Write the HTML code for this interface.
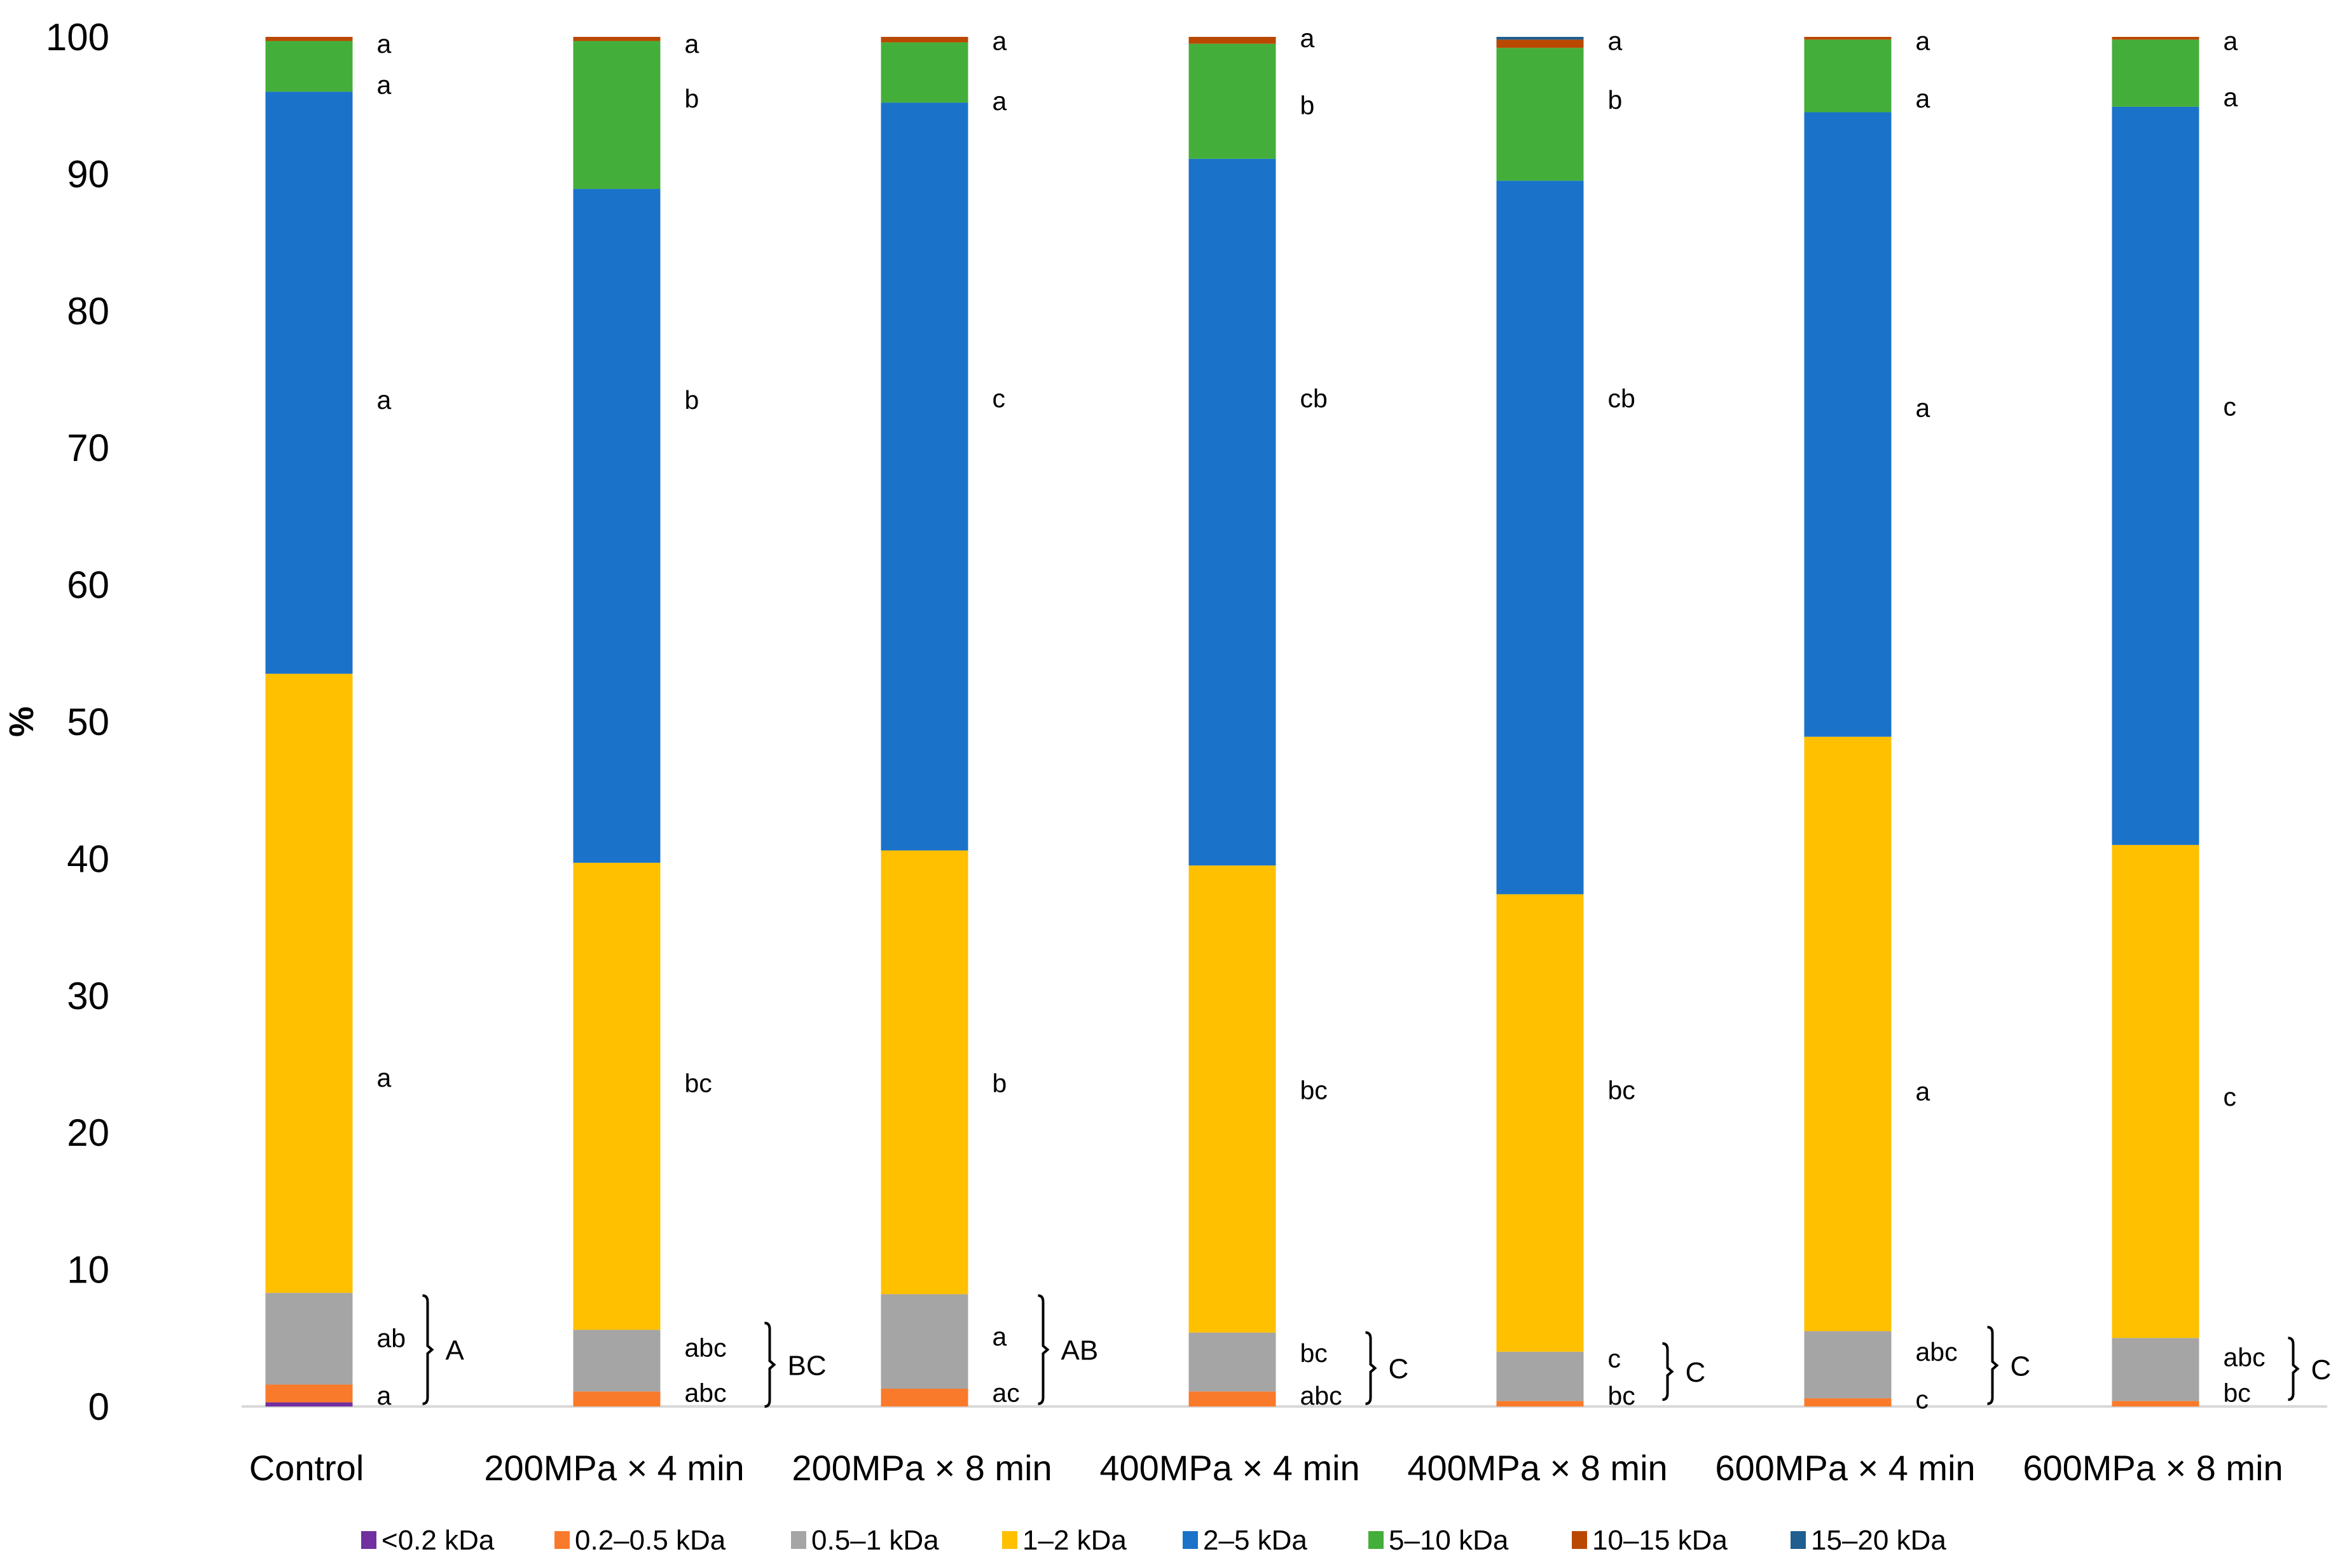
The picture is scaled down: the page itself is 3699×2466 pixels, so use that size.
<!DOCTYPE html>
<html><head><meta charset="utf-8"><style>
html,body{margin:0;padding:0;background:#fff;}
svg{display:block;font-family:"Liberation Sans",sans-serif;}
</style></head><body>
<svg id="chart" width="3699" height="2466" viewBox="0 0 3699 2466" xmlns="http://www.w3.org/2000/svg">
<text transform="translate(52,1135) rotate(-90)" text-anchor="middle" font-size="54" font-weight="bold" fill="#000">%</text>
<g id="yt"></g><g id="bars"></g><g id="ann"></g><g id="xl"></g><g id="leg"></g>
</svg>
<script>
const categories=["Control","200MPa × 4 min","200MPa × 8 min","400MPa × 4 min","400MPa × 8 min","600MPa × 4 min","600MPa × 8 min"];
const seriesNames=["<0.2 kDa","0.2–0.5 kDa","0.5–1 kDa","1–2 kDa","2–5 kDa","5–10 kDa","10–15 kDa","15–20 kDa"];
const seriesColors=["#7030A0","#F97A2B","#A5A5A5","#FFC000","#1A73C9","#44AE3A","#B94800","#1F5E8E"];
const sLt02=[0.3,0,0,0,0,0,0];
const s02to05=[1.3,1.1,1.3,1.1,0.4,0.6,0.4];
const s05to1=[6.7,4.5,6.9,4.3,3.6,4.9,4.6];
const s1to2=[45.2,34.1,32.4,34.1,33.4,43.4,36.0];
const s2to5=[42.5,49.2,54.6,51.6,52.1,45.6,53.9];
const s5to10=[3.7,10.8,4.4,8.4,9.7,5.3,4.9];
const s10to15=[0.3,0.3,0.4,0.5,0.6,0.2,0.2];
const s15to20=[0,0,0,0,0.2,0,0];
const yTicks=[0,10,20,30,40,50,60,70,80,90,100];
const letters=[["a","ab","a","a","a","a"],["abc","abc","bc","b","b","a"],["ac","a","b","c","a","a"],["abc","bc","bc","cb","b","a"],["bc","c","bc","cb","b","a"],["c","abc","a","a","a","a"],["bc","abc","c","c","a","a"]];
const letterVals=[[0.8,5.0,24,73.5,96.5,99.5],[1.0,4.3,23.6,73.5,95.5,99.5],[1.0,5.1,23.6,73.6,95.3,99.7],[0.8,3.9,23.1,73.6,95.0,99.9],[0.8,3.5,23.1,73.6,95.4,99.7],[0.5,4.0,23.0,72.9,95.5,99.7],[1.0,3.6,22.6,73.0,95.6,99.7]];
const groupLetters=["A","BC","AB","C","C","C","C"];
const bracketRange=[[0.2,8.1],[0,6.1],[0.2,8.1],[0.2,5.4],[0.5,4.6],[0.2,5.8],[0.5,5.0]];
const series=[sLt02,s02to05,s05to1,s1to2,s2to5,s5to10,s10to15,s15to20];
const NS="http://www.w3.org/2000/svg";
const Y0=2212,Y100=58;
function y(v){return Y0-(Y0-Y100)*v/100;}
function xc(i){return 486+i*484;}
const BW=137;
function mk(tag,attrs,parent){const e=document.createElementNS(NS,tag);for(const k in attrs)e.setAttribute(k,attrs[k]);parent.appendChild(e);return e;}
const yt=document.getElementById('yt'),bars=document.getElementById('bars'),ann=document.getElementById('ann'),xl=document.getElementById('xl'),leg=document.getElementById('leg');
const axis=mk('line',{x1:380,x2:3660,y1:y(0),y2:y(0),stroke:"#d9d9d9","stroke-width":4},yt);


yTicks.forEach(t=>{const e=mk('text',{x:172,y:y(t)+21,"text-anchor":"end","font-size":60,fill:"#000"},yt);e.textContent=t;

});
const bOff=[80,134,80,111,94,121,110];
categories.forEach((c,i)=>{let base=0;series.forEach((s,k)=>{const v=s[i];if(v>0){const r=mk('rect',{x:xc(i)-BW/2,y:y(base+v),width:BW,height:y(base)-y(base+v),fill:seriesColors[k]},bars);

}base+=v;});
const t=mk('text',{x:xc(i)-4,y:2328,"text-anchor":"middle","font-size":56,fill:"#000"},xl);t.textContent=c;


const lx=xc(i)+BW/2+38;
letters[i].forEach((L,j)=>{const e=mk('text',{x:lx,y:y(letterVals[i][j])+14,"font-size":41,fill:"#000"},ann);e.textContent=L;

});
const bx=lx+bOff[i];const [b0,b1]=bracketRange[i];const ym=(y(b0)+y(b1))/2;
const p=mk('path',{d:`M${bx-8},${y(b1)} Q${bx},${y(b1)} ${bx},${y(b1)+10} L${bx},${ym-6} L${bx+7},${ym} L${bx},${ym+6} L${bx},${y(b0)-10} Q${bx},${y(b0)} ${bx-8},${y(b0)}`,fill:"none",stroke:"#000","stroke-width":4},ann);


const g=mk('text',{x:bx+28,y:ym+16,"font-size":44,fill:"#000"},ann);g.textContent=groupLetters[i];

});
const legX=[568,872,1244,1576,1860,2152,2472,2816];
seriesNames.forEach((n,k)=>{const r=mk('rect',{x:legX[k],y:2408,width:24,height:28,fill:seriesColors[k]},leg);


const t=mk('text',{x:legX[k]+32,y:2437,"font-size":44,fill:"#000"},leg);t.textContent=n;

});
</script>
</body></html>
